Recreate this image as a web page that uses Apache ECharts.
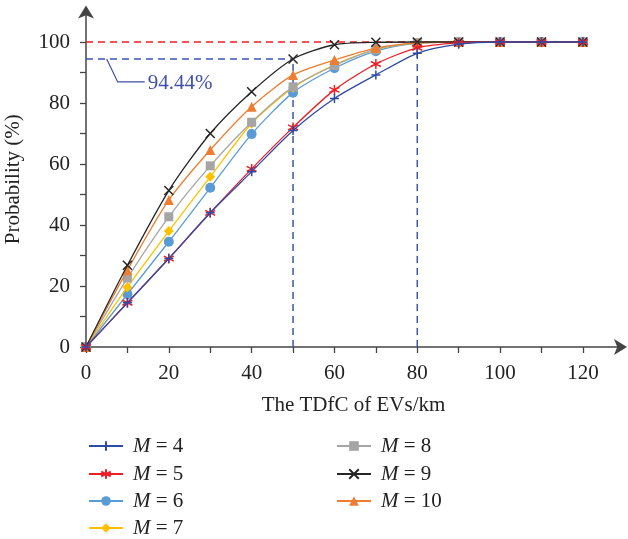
<!DOCTYPE html>
<html>
<head>
<meta charset="utf-8">
<script src="https://cdn.jsdelivr.net/npm/echarts@6/dist/echarts.min.js"></script>
<style>html,body{margin:0;padding:0;background:#fff}#c{width:628px;height:539px}</style>
</head>
<body>
<div id="c"></div>
<script>
const xValues = [0, 10, 20, 30, 40, 50, 60, 70, 80, 90, 100, 110, 120];
const m4  = [0, 14.5, 29.0, 44.0, 57.5, 71.0, 81.5, 89.2, 96.3, 99.3, 100, 100, 100];
const m5  = [0, 14.5, 29.0, 44.0, 58.4, 72.0, 84.3, 92.8, 98.1, 99.7, 100, 100, 100];
const m6  = [0, 17.3, 34.5, 52.2, 69.8, 83.4, 91.4, 97.0, 99.6, 100, 100, 100, 100];
const m7  = [0, 19.6, 38.0, 55.8, 73.3, 85.0, 92.5, 97.5, 99.7, 100, 100, 100, 100];
const m8  = [0, 22.6, 42.7, 59.4, 73.7, 85.3, 92.3, 97.6, 99.7, 100, 100, 100, 100];
const m9  = [0, 26.8, 51.3, 70.0, 83.7, 94.44, 99.1, 99.9, 100, 100, 100, 100, 100];
const m10 = [0, 25.2, 48.2, 64.6, 78.8, 89.2, 94.1, 98.0, 99.7, 100, 100, 100, 100];
const seriesNames = ['M = 4', 'M = 5', 'M = 6', 'M = 7', 'M = 8', 'M = 9', 'M = 10'];
const xTicks = [0, 10, 20, 30, 40, 50, 60, 70, 80, 90, 100, 110, 120];
const xLabels = [0, 20, 40, 60, 80, 100, 120];
const yTicks = [0, 10, 20, 30, 40, 50, 60, 70, 80, 90, 100];
const yLabels = [0, 20, 40, 60, 80, 100];
const refFull = [0, 120];       // x span of the 100% line
const refY100 = 100;
const refHit = 94.44;           // probability at 50 km for M = 9
const refX1 = 50;
const refX2 = 80;
const annText = '94.44%';

const FONT = '"Liberation Serif", "DejaVu Serif", serif';
const FS = 21;
const colors = ['#2f4aa3', '#ea2027', '#5b9bd5', '#ffc000', '#a5a5a5', '#262626', '#ed7d31'];
const symbols = [
  'path://M5,0L5,10M0,5L10,5',
  'path://M5,0L5,10M0.7,2.5L9.3,7.5M0.7,7.5L9.3,2.5',
  'circle', 'diamond', 'rect',
  'path://M0,0L10,10M0,10L10,0',
  'triangle'
];
const sizes = [9, 10, 10, 10, 9, 9, 10];
const strokeOnly = [true, true, false, false, false, true, false];
const allData = [m4, m5, m6, m7, m8, m9, m10];
const zOrder = [9, 8, 3, 4, 5, 7, 6];

const series = allData.map((d, i) => ({
  name: seriesNames[i],
  type: 'line',
  data: xValues.map((x, j) => [x, d[j]]),
  smooth: 0.25,
  symbol: symbols[i],
  symbolSize: sizes[i],
  showAllSymbol: true,
  z: zOrder[i],
  lineStyle: { color: colors[i], width: 1.3 },
  itemStyle: strokeOnly[i]
    ? { color: colors[i], borderColor: colors[i], borderWidth: 1.5 }
    : { color: colors[i], borderWidth: 0 },
  emphasis: { disabled: true },
  animation: false
}));

function dashSeries(data, color) {
  return {
    type: 'line', data: data, symbol: 'none', silent: true, z: 1,
    lineStyle: { color: color, width: 1.5, type: [7, 5] },
    animation: false, emphasis: { disabled: true }
  };
}
series.push(dashSeries([[refFull[0], refY100], [refFull[1], refY100]], '#ee1c25'));
series.push(dashSeries([[0, refHit], [refX1, refHit]], '#3a55b4'));
series.push(dashSeries([[refX1, 0], [refX1, refHit]], '#3a55b4'));
series.push(dashSeries([[refX2, 0], [refX2, refY100]], '#3a55b4'));

// one legend per entry, laid out in two columns
const rowCenters = [446, 474, 501, 528];
const legends = seriesNames.map((n, i) => {
  const col = i < 4 ? 0 : 1;
  const row = i < 4 ? i : i - 4;
  return {
    orient: 'horizontal',
    padding: 0,
    left: col === 0 ? 88 : 336,
    top: rowCenters[row] - 11,
    itemWidth: 34, itemHeight: 12,
    data: [n],
    formatter: s => '{i|M}' + s.slice(1),
    textStyle: {
      fontFamily: FONT, fontSize: FS, color: '#222', lineHeight: 22,
      padding: [0, 0, 0, 5],
      rich: { i: { fontFamily: FONT, fontSize: FS, fontStyle: 'italic', color: '#222', lineHeight: 22 } }
    }
  };
});

const chart = echarts.init(document.getElementById('c'), null, { renderer: 'canvas' });
const axisColor = '#444';
chart.setOption({
  animation: false,
  backgroundColor: '#fff',
  grid: { left: 86, right: 7, top: 11.5, bottom: 192, outerBoundsMode: 'none', containLabel: false },
  legend: legends,
  xAxis: {
    type: 'value', min: 0, max: 129.2,
    name: 'The TDfC of EVs/km', nameLocation: 'middle', nameGap: 48,
    nameTextStyle: { fontFamily: FONT, fontSize: FS, color: '#222' },
    axisLine: { lineStyle: { color: axisColor, width: 1.5 }, symbol: ['none', 'arrow'], symbolSize: [12, 13], symbolOffset: [0, 6] },
    axisTick: { show: true, length: 6, customValues: xTicks, lineStyle: { color: axisColor, width: 1.3 } },
    axisLabel: { customValues: xLabels, fontFamily: FONT, fontSize: FS, color: '#222', margin: 16 },
    splitLine: { show: false }
  },
  yAxis: {
    type: 'value', min: 0, max: 110,
    name: 'Probability (%)', nameLocation: 'middle', nameGap: 62, nameRotate: 90,
    nameTextStyle: { fontFamily: FONT, fontSize: FS, color: '#222' },
    axisLine: { show: true, lineStyle: { color: axisColor, width: 1.5 }, symbol: ['none', 'arrow'], symbolSize: [12, 13], symbolOffset: [0, 6] },
    axisTick: { show: true, length: 6, customValues: yTicks, lineStyle: { color: axisColor, width: 1.3 } },
    axisLabel: { customValues: yLabels, fontFamily: FONT, fontSize: FS, color: '#222', margin: 16 },
    splitLine: { show: false }
  },
  series: series
});

const p = chart.convertToPixel({ gridIndex: 0 }, [5, refHit]);
const annColor = '#3f51a8';
chart.setOption({
  graphic: [
    { type: 'polyline', silent: true, z: 20,
      shape: { points: [[p[0], p[1]], [p[0] + 11, p[1] + 23], [p[0] + 38, p[1] + 23]] },
      style: { stroke: annColor, lineWidth: 1.2, fill: null } },
    { type: 'text', silent: true, z: 20, x: p[0] + 41, y: p[1] + 25,
      style: { text: annText, fontFamily: FONT, fontSize: FS, fill: annColor, verticalAlign: 'middle' } }
  ]
});
</script>
</body>
</html>
